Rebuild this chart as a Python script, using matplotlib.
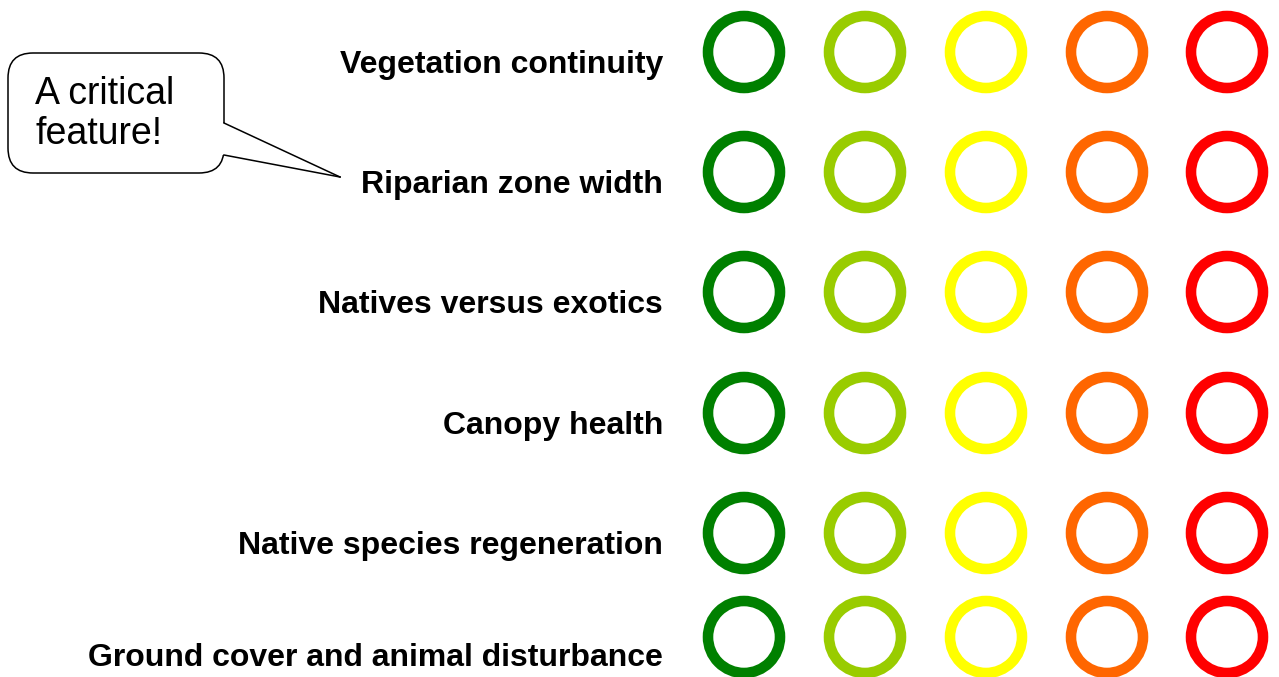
import matplotlib.pyplot as plt
from matplotlib.patches import Circle, FancyBboxPatch, Polygon
from matplotlib.lines import Line2D

plt.rcParams['font.family'] = ['Liberation Sans', 'DejaVu Sans']

labels = ["Vegetation continuity", "Riparian zone width", "Natives versus exotics",
          "Canopy health", "Native species regeneration", "Ground cover and animal disturbance"]
row_y = [52, 172, 292, 413, 533, 637]
label_y = [62, 182, 302, 423, 543, 655]
col_x = [744, 865, 986, 1107, 1227]
colors = ["#008000", "#99CC00", "#FFFF00", "#FF6600", "#FF0000"]
callout_text = "A critical\nfeature!"

fig = plt.figure(figsize=(12.79, 6.77), dpi=100)
ax = fig.add_axes([0, 0, 1, 1])
ax.set_xlim(0, 1279)
ax.set_ylim(677, 0)
ax.set_aspect('equal')
ax.axis('off')

for lab, ly in zip(labels, label_y):
    ax.text(663, ly + 3, lab, ha='right', va='center', fontsize=23, fontweight='bold')

for ry in row_y:
    for cx, c in zip(col_x, colors):
        ax.add_patch(Circle((cx, ry), 36, fill=False, edgecolor=c, linewidth=7.6))

# callout bubble
box = FancyBboxPatch((8, 53), 216, 120, boxstyle="round,pad=0,rounding_size=25",
                     facecolor='white', edgecolor='black', linewidth=1.1)
ax.add_patch(box)
tail = [(224, 123), (340, 177), (224, 155)]
ax.add_patch(Polygon([(220, 123)] + tail + [(220, 155)], closed=True,
                     facecolor='white', edgecolor='none'))
ax.add_line(Line2D([224, 340], [123, 177], color='black', linewidth=1.1))
ax.add_line(Line2D([340, 224], [177, 155], color='black', linewidth=1.1))
ax.text(35, 114, callout_text, ha='left', va='center', fontsize=27, linespacing=1.17)

plt.savefig('out.png', dpi=100)
